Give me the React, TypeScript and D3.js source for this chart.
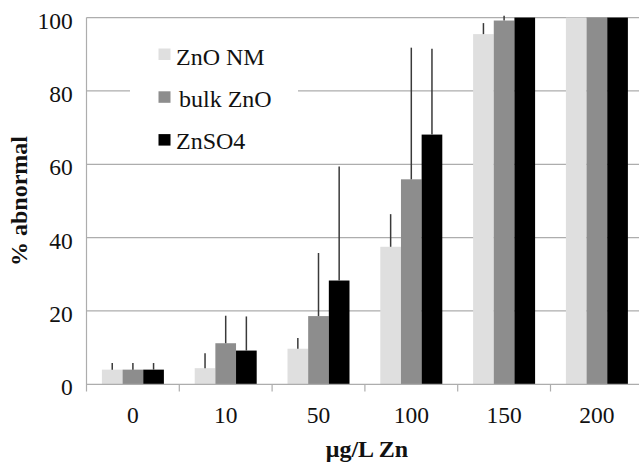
import React from "react";
import * as d3 from "d3";

const categories = ["0", "10", "50", "100", "150", "200"];
const seriesNames = ["ZnO NM", "bulk ZnO", "ZnSO4"];
const znoNM = [4, 4.4, 9.7, 37.5, 95.5, 100];
const znoNMErr = [1.8, 4.1, 2.9, 8.9, 3, 0];
const bulkZnO = [4, 11.2, 18.6, 55.9, 99.2, 100];
const bulkZnOErr = [1.8, 7.5, 17.2, 35.9, 1.3, 0];
const znso4 = [4, 9.2, 28.3, 68.1, 100, 100];
const znso4Err = [1.8, 9.3, 31.1, 23.4, 0, 0];
const yTicks = [0, 20, 40, 60, 80, 100];

const colors = ["#dfdfdf", "#8d8d8d", "#000000"];
const W = 639;
const H = 463;

export default function App() {
  const values = [znoNM, bulkZnO, znso4];
  const errs = [znoNMErr, bulkZnOErr, znso4Err];
  const x0 = 86.5;
  const x1 = 643.3;
  const y = d3.scaleLinear().domain([0, 100]).range([384.3, 17.6]);
  const xb = d3
    .scaleBand<string>()
    .domain(categories)
    .range([x0, x1])
    .paddingInner(0.332)
    .paddingOuter(0.166);
  const step = xb.step();
  const xs = d3
    .scaleBand<string>()
    .domain(seriesNames)
    .range([0, xb.bandwidth()]);
  const fs = { fontFamily: "'Liberation Serif', 'Times New Roman', serif" };
  const grid = "#adadad";

  return (
    <svg
      width={W}
      height={H}
      style={{ position: "absolute", left: 0, top: 0, background: "#fff" }}
    >
      <rect x={0} y={0} width={W} height={H} fill="#fff" />
      {yTicks.map((t) => (
        <g key={t}>
          {t > 0 && (
            <line x1={x0} x2={W} y1={y(t)} y2={y(t)} stroke={grid} strokeWidth={1.2} />
          )}
          <text x={72.7} y={y(t) + 11} textAnchor="end" fontSize={23.5} fill="#111" style={fs}>
            {t}
          </text>
        </g>
      ))}
      <rect x={130} y={30} width={168} height={128} fill="#fff" />
      {seriesNames.map((s, i) => (
        <g key={s}>
          <rect x={158.5} y={48.5 + i * 42.8} width={12} height={11.5} fill={colors[i]} />
          <text x={i === 1 ? 179 : 176} y={65 + i * 42.2} fontSize={24} fill="#111" style={fs}>
            {s}
          </text>
        </g>
      ))}
      {categories.map((c, ci) => (
        <g key={c}>
          {seriesNames.map((s, si) => {
            const bx = (xb(c) as number) + (xs(s) as number);
            const v = values[si][ci];
            const e = errs[si][ci];
            return (
              <g key={s}>
                <rect
                  x={bx}
                  y={y(v)}
                  width={xs.bandwidth()}
                  height={y(0) - y(v)}
                  fill={colors[si]}
                />
                {e > 0 && (
                  <line
                    x1={bx + xs.bandwidth() / 2}
                    x2={bx + xs.bandwidth() / 2}
                    y1={y(v)}
                    y2={y(v + e)}
                    stroke="#3a3a3a"
                    strokeWidth={1.5}
                  />
                )}
              </g>
            );
          })}
          <text
            x={(xb(c) as number) + xb.bandwidth() / 2}
            y={422.7}
            textAnchor="middle"
            fontSize={23.5}
            fill="#111"
            style={fs}
          >
            {c}
          </text>
        </g>
      ))}
      <line x1={x0} x2={x0} y1={y(100)} y2={391.5} stroke={grid} strokeWidth={1.2} />
      <line x1={x0} x2={W} y1={y(0)} y2={y(0)} stroke={grid} strokeWidth={1.2} />
      {categories.map((c, i) => (
        <line
          key={c}
          x1={x0 + step * (i + 1)}
          x2={x0 + step * (i + 1)}
          y1={y(0)}
          y2={391.5}
          stroke={grid}
          strokeWidth={1.2}
        />
      ))}
      <text
        transform={`translate(27,201) rotate(-90)`}
        textAnchor="middle"
        fontSize={24}
        fontWeight="bold"
        fill="#111"
        style={fs}
      >
        % abnormal
      </text>
      <text x={367} y={457} textAnchor="middle" fontSize={24} fontWeight="bold" fill="#111" style={fs}>
        μg/L Zn
      </text>
    </svg>
  );
}
